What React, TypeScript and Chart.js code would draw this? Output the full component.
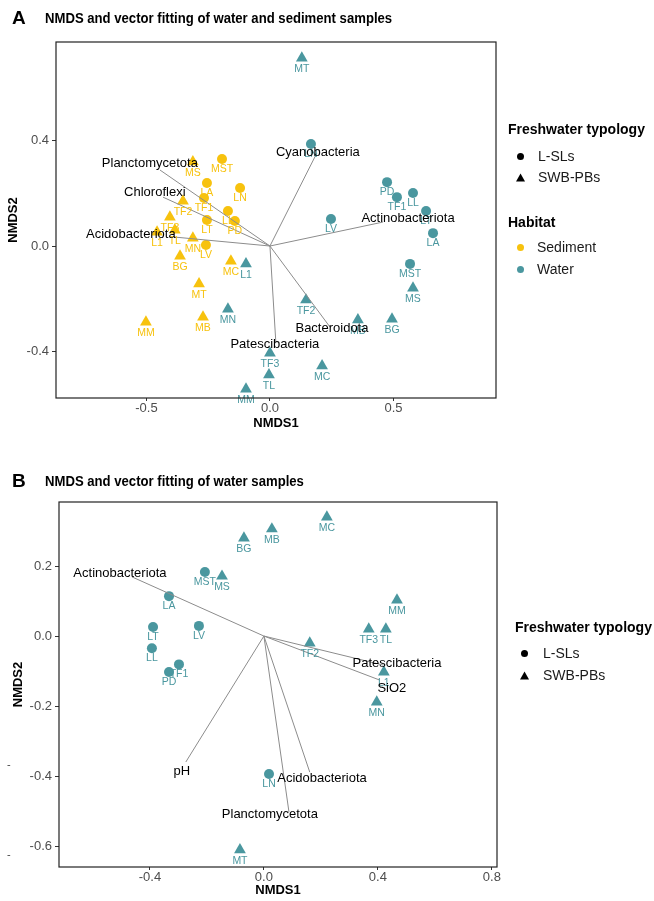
import React, { useEffect, useRef } from "react";
import { Chart, registerables } from "chart.js";

Chart.register(...registerables);

const FONT = "'Liberation Sans', Arial, Helvetica, sans-serif";
const SED_COLOR = "#F7C20E";
const WAT_COLOR = "#4A979F";
const VEC_COLOR = "#8c8c8c";

// ---------------- Panel A: water and sediment samples ----------------
const aXTicks = [-0.5, 0, 0.5];
const aYTicks = [-0.4, 0, 0.4];

const aSedCircleNames = ["MST", "LA", "LN", "TF1", "LL", "PD", "LT", "LV"];
const aSedCircleX = [-0.194, -0.255, -0.121, -0.267, -0.170, -0.142, -0.255, -0.259];
const aSedCircleY = [0.331, 0.240, 0.221, 0.183, 0.133, 0.095, 0.099, 0.004];

const aSedTriNames = ["MS", "TF2", "TF3", "L1", "TL", "MN", "BG", "MC", "MT", "MB", "MM"];
const aSedTriX = [-0.312, -0.352, -0.405, -0.457, -0.385, -0.312, -0.364, -0.158, -0.287, -0.271, -0.502];
const aSedTriY = [0.320, 0.171, 0.110, 0.053, 0.061, 0.030, -0.038, -0.057, -0.144, -0.270, -0.289];

const aWatCircleNames = ["LN", "LV", "PD", "TF1", "LL", "LT", "LA", "MST"];
const aWatCircleX = [0.166, 0.247, 0.474, 0.514, 0.579, 0.632, 0.660, 0.567];
const aWatCircleY = [0.388, 0.103, 0.243, 0.186, 0.202, 0.133, 0.049, -0.068];

const aWatTriNames = ["MT", "MS", "BG", "MB", "TF2", "MC", "L1", "MN", "TF3", "TL", "MM"];
const aWatTriX = [0.129, 0.579, 0.494, 0.356, 0.146, 0.211, -0.097, -0.170, 0.000, -0.004, -0.097];
const aWatTriY = [0.715, -0.160, -0.278, -0.281, -0.205, -0.456, -0.068, -0.240, -0.407, -0.490, -0.544];

const aVecNames = ["Planctomycetota", "Chloroflexi", "Acidobacteriota", "Cyanobacteria", "Actinobacteriota", "Bacteroidota", "Patescibacteria"];
const aVecX = [-0.445, -0.433, -0.385, 0.190, 0.457, 0.243, 0.024];
const aVecY = [0.289, 0.186, 0.034, 0.354, 0.091, -0.308, -0.369];
const aVecLabelX = [-0.486, -0.466, -0.563, 0.194, 0.559, 0.251, 0.020];
const aVecLabelY = [0.316, 0.205, 0.046, 0.357, 0.106, -0.312, -0.376];

// ---------------- Panel B: water samples ----------------
const bXTicks = [-0.4, 0, 0.4, 0.8];
const bYTicks = [-0.6, -0.4, -0.2, 0, 0.2];

const bWatCircleNames = ["LA", "MST", "LT", "LV", "LL", "TF1", "PD", "LN"];
const bWatCircleX = [-0.333, -0.207, -0.389, -0.228, -0.393, -0.298, -0.333, 0.018];
const bWatCircleY = [0.114, 0.183, 0.026, 0.029, -0.035, -0.081, -0.103, -0.394];

const bWatTriNames = ["BG", "MS", "MB", "MC", "MM", "TF3", "TL", "TF2", "L1", "MN", "MT"];
const bWatTriX = [-0.070, -0.147, 0.028, 0.221, 0.467, 0.368, 0.428, 0.161, 0.421, 0.396, -0.084];
const bWatTriY = [0.280, 0.171, 0.306, 0.340, 0.103, 0.020, 0.020, -0.020, -0.103, -0.189, -0.611];

const bVecNames = ["Actinobacteriota", "Patescibacteria", "SiO2", "pH", "Acidobacteriota", "Planctomycetota"];
const bVecX = [-0.463, 0.418, 0.407, -0.274, 0.161, 0.088];
const bVecY = [0.169, -0.083, -0.126, -0.360, -0.389, -0.503];
const bVecLabelX = [-0.505, 0.467, 0.449, -0.288, 0.204, 0.021];
const bVecLabelY = [0.180, -0.077, -0.149, -0.386, -0.406, -0.511];

const zip = (xs: number[], ys: number[]) => xs.map((x, i) => ({ x, y: ys[i] }));

type Group = { names: string[]; xs: number[]; ys: number[]; color: string; shape: "circle" | "triangle" };
type PanelSpec = {
  groups: Group[];
  vecNames: string[];
  vecX: number[];
  vecY: number[];
  vecLabelX: number[];
  vecLabelY: number[];
  xMin: number; xMax: number; yMin: number; yMax: number;
  xTicks: number[]; yTicks: number[];
  padTop: number; padRight: number;
  yAxisWidth: number; xAxisHeight: number;
  yTitlePad: number; xTitlePad: number;
};

function buildConfig(p: PanelSpec): any {
  const datasets: any[] = [];
  p.groups.forEach((g) => {
    datasets.push({
      type: "scatter",
      data: zip(g.xs, g.ys),
      pointStyle: g.shape,
      pointRadius: g.shape === "circle" ? 5 : 6.8,
      pointHoverRadius: g.shape === "circle" ? 5 : 6.8,
      backgroundColor: g.color,
      borderColor: g.color,
      borderWidth: 0,
      order: 2,
      pointNames: g.names,
      labelOffset: g.shape === "circle" ? 10 : 11,
    });
  });
  p.vecNames.forEach((_, i) => {
    datasets.push({
      type: "line",
      data: [{ x: 0, y: 0 }, { x: p.vecX[i], y: p.vecY[i] }],
      showLine: true,
      pointRadius: 0,
      borderColor: VEC_COLOR,
      borderWidth: 1,
      order: 1,
    });
  });

  const labelPlugin = {
    id: "nmdsLabels",
    afterDatasetsDraw(chart: any) {
      const ctx = chart.ctx;
      ctx.save();
      ctx.textAlign = "center";
      ctx.textBaseline = "middle";
      ctx.font = `10.5px ${FONT}`;
      chart.data.datasets.forEach((ds: any, i: number) => {
        if (!ds.pointNames) return;
        const meta = chart.getDatasetMeta(i);
        ctx.fillStyle = ds.backgroundColor;
        meta.data.forEach((el: any, j: number) => {
          ctx.fillText(ds.pointNames[j], el.x, el.y + ds.labelOffset);
        });
      });
      ctx.font = `13px ${FONT}`;
      ctx.fillStyle = "#000";
      const xs = chart.scales.x;
      const ys = chart.scales.y;
      p.vecNames.forEach((name, i) => {
        ctx.fillText(name, xs.getPixelForValue(p.vecLabelX[i]), ys.getPixelForValue(p.vecLabelY[i]));
      });
      ctx.restore();
    },
    afterDraw(chart: any) {
      const { ctx, chartArea } = chart;
      ctx.save();
      ctx.strokeStyle = "#222";
      ctx.lineWidth = 1.2;
      ctx.strokeRect(chartArea.left, chartArea.top, chartArea.right - chartArea.left, chartArea.bottom - chartArea.top);
      ctx.restore();
    },
  };

  const tickFont = { family: FONT, size: 13 };
  const titleFont = { family: FONT, size: 13, weight: "bold" as const };

  return {
    type: "scatter",
    data: { datasets },
    options: {
      responsive: false,
      maintainAspectRatio: false,
      devicePixelRatio: 1,
      animation: false,
      events: [],
      layout: { padding: { left: 0, top: p.padTop, right: p.padRight, bottom: 0 } },
      plugins: { legend: { display: false }, tooltip: { enabled: false } },
      scales: {
        x: {
          type: "linear",
          min: p.xMin,
          max: p.xMax,
          afterBuildTicks: (s: any) => { s.ticks = p.xTicks.map((v) => ({ value: v })); },
          afterFit: (s: any) => { s.height = p.xAxisHeight; },
          ticks: { font: tickFont, color: "#4d4d4d", padding: 0, maxRotation: 0, autoSkip: false, callback: (v: any) => Number(v).toFixed(1) },
          grid: { drawOnChartArea: false, drawTicks: true, tickLength: 3, color: "#333", lineWidth: 1 },
          border: { display: false },
          title: { display: true, text: "NMDS1", font: titleFont, color: "#000", padding: { top: 0, bottom: p.xTitlePad } },
        },
        y: {
          type: "linear",
          min: p.yMin,
          max: p.yMax,
          afterBuildTicks: (s: any) => { s.ticks = p.yTicks.map((v) => ({ value: v })); },
          afterFit: (s: any) => { s.width = p.yAxisWidth; },
          ticks: { font: tickFont, color: "#4d4d4d", padding: 3, autoSkip: false, callback: (v: any) => Number(v).toFixed(1) },
          grid: { drawOnChartArea: false, drawTicks: true, tickLength: 4, color: "#333", lineWidth: 1 },
          border: { display: false },
          title: { display: true, text: "NMDS2", font: titleFont, color: "#000", padding: { top: p.yTitlePad, bottom: 0 } },
        },
      },
    },
    plugins: [labelPlugin],
  };
}

const panelA: PanelSpec = {
  groups: [
    { names: aSedCircleNames, xs: aSedCircleX, ys: aSedCircleY, color: SED_COLOR, shape: "circle" },
    { names: aSedTriNames, xs: aSedTriX, ys: aSedTriY, color: SED_COLOR, shape: "triangle" },
    { names: aWatCircleNames, xs: aWatCircleX, ys: aWatCircleY, color: WAT_COLOR, shape: "circle" },
    { names: aWatTriNames, xs: aWatTriX, ys: aWatTriY, color: WAT_COLOR, shape: "triangle" },
  ],
  vecNames: aVecNames, vecX: aVecX, vecY: aVecY, vecLabelX: aVecLabelX, vecLabelY: aVecLabelY,
  xMin: -0.866, xMax: 0.915, yMin: -0.578, yMax: 0.776,
  xTicks: aXTicks, yTicks: aYTicks,
  padTop: 42, padRight: 158, yAxisWidth: 56, xAxisHeight: 42, yTitlePad: 5.5, xTitlePad: 8.5,
};

const panelB: PanelSpec = {
  groups: [
    { names: bWatCircleNames, xs: bWatCircleX, ys: bWatCircleY, color: WAT_COLOR, shape: "circle" },
    { names: bWatTriNames, xs: bWatTriX, ys: bWatTriY, color: WAT_COLOR, shape: "triangle" },
  ],
  vecNames: bVecNames, vecX: bVecX, vecY: bVecY, vecLabelX: bVecLabelX, vecLabelY: bVecLabelY,
  xMin: -0.719, xMax: 0.818, yMin: -0.66, yMax: 0.383,
  xTicks: bXTicks, yTicks: bYTicks,
  padTop: 32, padRight: 157, yAxisWidth: 59, xAxisHeight: 34, yTitlePad: 10.5, xTitlePad: 2.5,
};

function NmdsCanvas({ spec, top, height }: { spec: PanelSpec; top: number; height: number }) {
  const ref = useRef<HTMLCanvasElement>(null);
  useEffect(() => {
    const chart = new Chart(ref.current as HTMLCanvasElement, buildConfig(spec));
    return () => chart.destroy();
  }, [spec]);
  return (
    <canvas
      ref={ref}
      width={654}
      height={height}
      style={{ position: "absolute", left: 0, top, width: 654, height }}
    />
  );
}

const Circle = ({ color, size }: { color: string; size: number }) => (
  <svg width={size} height={size} style={{ display: "block" }}>
    <circle cx={size / 2} cy={size / 2} r={size / 2} fill={color} />
  </svg>
);
const Tri = ({ color, size }: { color: string; size: number }) => (
  <svg width={size} height={size} style={{ display: "block" }}>
    <polygon points={`${size / 2},0.5 ${size},${size - 0.5} 0,${size - 0.5}`} fill={color} />
  </svg>
);

function LegendItem({ x, y, marker, text, textX }: { x: number; y: number; marker: React.ReactNode; text: string; textX: number }) {
  return (
    <>
      <div style={{ position: "absolute", left: x - 5, top: y - 5, width: 10, height: 10, display: "flex", alignItems: "center", justifyContent: "center" }}>
        {marker}
      </div>
      <div style={{ position: "absolute", left: textX, top: y - 9, height: 18, lineHeight: "18px", fontSize: 14, color: "#1a1a1a", whiteSpace: "nowrap" }}>
        {text}
      </div>
    </>
  );
}

function Txt({ x, y, size, bold, children, scaleX }: { x: number; y: number; size: number; bold?: boolean; children: React.ReactNode; scaleX?: number }) {
  return (
    <div
      style={{
        position: "absolute",
        left: x,
        top: y - size * 0.6,
        height: size * 1.2,
        lineHeight: `${size * 1.2}px`,
        fontSize: size,
        fontWeight: bold ? "bold" : "normal",
        fontFamily: FONT,
        color: "#000",
        whiteSpace: "nowrap",
        transform: scaleX ? `scaleX(${scaleX})` : undefined,
        transformOrigin: "left center",
      }}
    >
      {children}
    </div>
  );
}

export default function App() {
  return (
    <div style={{ position: "absolute", left: 0, top: 0, width: 654, height: 901, background: "#fff", fontFamily: FONT, overflow: "hidden" }}>
      <NmdsCanvas spec={panelA} top={0} height={440} />
      <NmdsCanvas spec={panelB} top={470} height={431} />

      <Txt x={12} y={18} size={19} bold>A</Txt>
      <Txt x={45} y={18} size={15} bold scaleX={0.875}>NMDS and vector fitting of water and sediment samples</Txt>
      <Txt x={12} y={481} size={19} bold>B</Txt>
      <Txt x={45} y={481} size={15} bold scaleX={0.875}>NMDS and vector fitting of water samples</Txt>

      <Txt x={508} y={129} size={14} bold>Freshwater typology</Txt>
      <LegendItem x={520} y={156} marker={<Circle color="#000" size={7} />} text="L-SLs" textX={538} />
      <LegendItem x={520} y={177} marker={<Tri color="#000" size={9} />} text="SWB-PBs" textX={538} />
      <Txt x={508} y={222} size={14} bold>Habitat</Txt>
      <LegendItem x={520} y={247} marker={<Circle color={SED_COLOR} size={7} />} text="Sediment" textX={537} />
      <LegendItem x={520} y={269} marker={<Circle color={WAT_COLOR} size={7} />} text="Water" textX={537} />

      <Txt x={515} y={627} size={14} bold>Freshwater typology</Txt>
      <LegendItem x={524} y={653} marker={<Circle color="#000" size={7} />} text="L-SLs" textX={543} />
      <LegendItem x={524} y={675} marker={<Tri color="#000" size={9} />} text="SWB-PBs" textX={543} />

      <div style={{ position: "absolute", left: 7, top: 758, fontSize: 11, color: "#444" }}>-</div>
      <div style={{ position: "absolute", left: 7, top: 848, fontSize: 11, color: "#444" }}>-</div>
    </div>
  );
}
